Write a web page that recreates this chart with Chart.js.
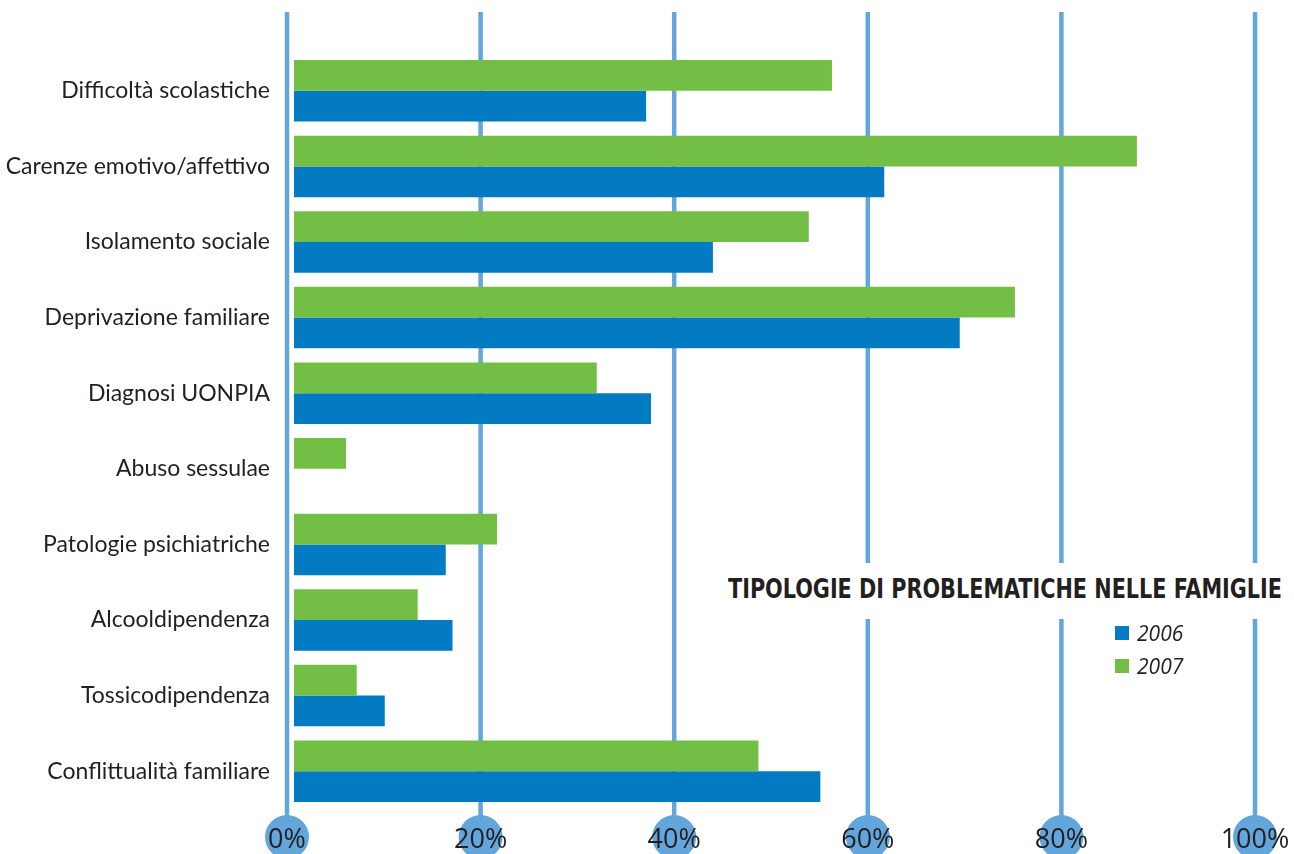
<!DOCTYPE html>
<html>
<head>
<meta charset="utf-8">
<script src="https://cdn.jsdelivr.net/npm/chart.js@4"></script>
<style>
  html, body { margin: 0; padding: 0; background: #fff; }
  #wrap { position: relative; width: 1294px; height: 854px; }
  #title {
    position: absolute; left: 715px; top: 563px; width: 579px; height: 56px;
    background: #fff;
  }
  #title span {
    position: absolute; left: 13px; top: 11px;
    font: bold 27px "DejaVu Sans Condensed", "Open Sans", sans-serif;
    line-height: 30px; color: #231f20; white-space: nowrap;
    transform-origin: 0 0;
  }
  #legend { position: absolute; left: 1115px; top: 616px; }
  .item { display: flex; align-items: center; height: 33px; }
  .box { width: 14px; height: 14px; margin-right: 8px; }
  .item span { font: italic 21px "Open Sans", sans-serif; color: #231f20; }
</style>
</head>
<body>
<div id="wrap">
  <canvas id="chart" width="1294" height="854"></canvas>
  <div id="title"><span>TIPOLOGIE DI PROBLEMATICHE NELLE FAMIGLIE</span></div>
  <div id="legend"></div>
</div>
<script>
// categorie (dall'alto verso il basso)
const categories = [
    "Difficoltà scolastiche",
    "Carenze emotivo/affettivo",
    "Isolamento sociale",
    "Deprivazione familiare",
    "Diagnosi UONPIA",
    "Abuso sessulae",
    "Patologie psichiatriche",
    "Alcooldipendenza",
    "Tossicodipendenza",
    "Conflittualità familiare"
];

// valori in percentuale
const values2006 = [37.1, 61.7, 44.0, 69.5, 37.6, null, 16.4, 17.1, 10.1, 55.1];
const values2007 = [56.3, 87.8, 53.9, 75.2, 32.0, 6.1, 21.7, 13.5, 7.2, 48.7];

const tickValues = [0, 20, 40, 60, 80, 100];

const GREEN = "#73bf45";
const BLUE = "#037bc3";
const GRID = "#63a6db";

// linee verticali e cerchi sotto le etichette
const gridPlugin = {
    id: "gridCircles",
    beforeDraw(chart) {
        const { ctx, chartArea, scales } = chart;
        const x = scales.x;
        ctx.save();
        ctx.strokeStyle = GRID;
        ctx.fillStyle = GRID;
        ctx.lineWidth = 4.5;
        tickValues.forEach(v => {
            const px = x.getPixelForValue(v);
            ctx.beginPath();
            ctx.moveTo(px, chartArea.top - 41);
            ctx.lineTo(px, chartArea.bottom + 10);
            ctx.stroke();
            ctx.beginPath();
            ctx.arc(px, chartArea.bottom + 28, 22, 0, Math.PI * 2);
            ctx.fill();
        });
        ctx.restore();
    }
};

const chart = new Chart(document.getElementById("chart"), {
    type: "bar",
    data: {
        labels: categories,
        datasets: [{
            label: "2007",
            data: values2007,
            backgroundColor: GREEN,
            base: 0.72
        }, {
            label: "2006",
            data: values2006,
            backgroundColor: BLUE,
            base: 0.72
        }]
    },
    options: {
        indexAxis: "y",
        responsive: false,
        animation: false,
        layout: { padding: { top: 53, right: 39, left: 0, bottom: 0 } },
        categoryPercentage: 0.814,
        barPercentage: 1.0,
        plugins: {
            legend: { display: false },
            tooltip: { enabled: false }
        },
        scales: {
            x: {
                min: 0,
                max: 100,
                afterFit(scale) {
                    scale.height = 45;
                    scale.paddingLeft = 0;
                    scale.paddingRight = 0;
                },
                afterBuildTicks(scale) {
                    scale.ticks = tickValues.map(v => ({ value: v }));
                },
                grid: { display: false, drawTicks: false },
                border: { display: false },
                ticks: {
                    padding: 15,
                    maxRotation: 0,
                    color: "#231f20",
                    font: { family: "Open Sans", size: 27 },
                    callback: v => v + "%"
                }
            },
            y: {
                afterFit(scale) { scale.width = 287; },
                grid: { display: false, drawTicks: false },
                border: { display: false },
                ticks: {
                    padding: 17,
                    color: "#231f20",
                    font: { family: "Lato", size: 23 }
                }
            }
        }
    },
    plugins: [gridPlugin]
});

// titolo stretto alla larghezza del riferimento
const titleSpan = document.querySelector("#title span");
const tw = titleSpan.getBoundingClientRect().width;
titleSpan.style.transform = `scaleX(${554 / tw})`;

// legenda: 2006 poi 2007
const legend = document.getElementById("legend");
[chart.data.datasets[1], chart.data.datasets[0]].forEach(ds => {
    const item = document.createElement("div");
    item.className = "item";
    item.innerHTML = `<div class="box" style="background:${ds.backgroundColor}"></div><span>${ds.label}</span>`;
    legend.appendChild(item);
});
</script>
</body>
</html>
